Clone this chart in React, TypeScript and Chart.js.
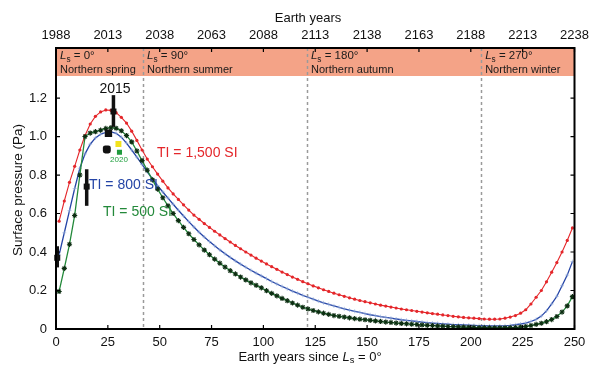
import React, { useEffect, useRef } from "react";
import { Chart, registerables } from "chart.js";
Chart.register(...registerables);

const FONT = "'Liberation Sans', Arial, Helvetica, sans-serif";

// Earth years since Ls = 0°
const years = [
  1.5, 4, 6.5, 9, 11.5, 14, 16.5, 19, 21.5, 24,
  26.5, 29, 31.5, 34, 36.5, 39, 41.5, 44, 46.5, 49,
  51.5, 54, 56.5, 59, 61.5, 64, 66.5, 69, 71.5, 74,
  76.5, 79, 81.5, 84, 86.5, 89, 91.5, 94, 96.5, 99,
  101.5, 104, 106.5, 109, 111.5, 114, 116.5, 119, 121.5, 124,
  126.5, 129, 131.5, 134, 136.5, 139, 141.5, 144, 146.5, 149,
  151.5, 154, 156.5, 159, 161.5, 164, 166.5, 169, 171.5, 174,
  176.5, 179, 181.5, 184, 186.5, 189, 191.5, 194, 196.5, 199,
  201.5, 204, 206.5, 209, 211.5, 214, 216.5, 219, 221.5, 224,
  226.5, 229, 231.5, 234, 236.5, 239, 241.5, 244, 246.5, 249,
];

// TI = 1,500 SI (red)
const pressureTI1500 = [
  0.56, 0.665, 0.762, 0.845, 0.93, 1.005, 1.065, 1.105, 1.128, 1.138,
  1.136, 1.124, 1.1, 1.07, 1.028, 0.98, 0.93, 0.883, 0.843, 0.805,
  0.768, 0.733, 0.702, 0.673, 0.645, 0.618, 0.592, 0.57, 0.548, 0.528,
  0.508, 0.489, 0.47, 0.452, 0.434, 0.417, 0.4, 0.384, 0.368, 0.353,
  0.338, 0.324, 0.31, 0.296, 0.283, 0.27, 0.258, 0.246, 0.235, 0.224,
  0.214, 0.204, 0.195, 0.186, 0.178, 0.17, 0.162, 0.155, 0.148, 0.142,
  0.136, 0.13, 0.124, 0.119, 0.114, 0.109, 0.104, 0.1, 0.096, 0.092,
  0.088, 0.084, 0.08, 0.077, 0.073, 0.07, 0.066, 0.063, 0.06, 0.058,
  0.056, 0.054, 0.052, 0.051, 0.051, 0.052, 0.056, 0.062, 0.07, 0.082,
  0.1, 0.13, 0.165, 0.2, 0.245, 0.295, 0.345, 0.4, 0.46, 0.525,
];

// TI = 800 SI (blue)
const pressureTI800 = [
  0.385, 0.5, 0.615, 0.73, 0.835, 0.91, 0.96, 0.993, 1.012, 1.022,
  1.024, 1.017, 0.997, 0.966, 0.93, 0.893, 0.855, 0.817, 0.78, 0.745,
  0.712, 0.68, 0.648, 0.617, 0.587, 0.558, 0.53, 0.503, 0.478, 0.454,
  0.432, 0.411, 0.391, 0.372, 0.354, 0.337, 0.321, 0.305, 0.29, 0.276,
  0.262, 0.247, 0.234, 0.221, 0.209, 0.197, 0.186, 0.175, 0.165, 0.155,
  0.145, 0.136, 0.128, 0.12, 0.112, 0.105, 0.098, 0.092, 0.086, 0.08,
  0.074, 0.069, 0.064, 0.06, 0.056, 0.052, 0.048, 0.045, 0.042, 0.039,
  0.036, 0.033, 0.031, 0.029, 0.027, 0.025, 0.023, 0.022, 0.021, 0.02,
  0.019, 0.018, 0.017, 0.016, 0.016, 0.016, 0.017, 0.019, 0.022, 0.026,
  0.031, 0.039, 0.05, 0.067, 0.094, 0.13, 0.17, 0.225, 0.28, 0.35,
];

// TI = 500 SI (green)
const pressureTI500 = [
  0.195, 0.315, 0.44, 0.59, 0.8, 1.0, 1.018, 1.025, 1.033, 1.042,
  1.046, 1.043, 1.03, 1.005, 0.972, 0.925, 0.875, 0.825, 0.775, 0.727,
  0.682, 0.64, 0.6, 0.563, 0.528, 0.495, 0.465, 0.437, 0.41, 0.386,
  0.363, 0.342, 0.322, 0.303, 0.286, 0.27, 0.255, 0.24, 0.227, 0.214,
  0.199, 0.185, 0.172, 0.159, 0.147, 0.135, 0.124, 0.113, 0.104, 0.096,
  0.089, 0.082, 0.076, 0.07, 0.066, 0.062, 0.058, 0.054, 0.051, 0.048,
  0.045, 0.042, 0.039, 0.036, 0.034, 0.031, 0.029, 0.027, 0.025, 0.023,
  0.021, 0.019, 0.018, 0.016, 0.015, 0.013, 0.012, 0.011, 0.01, 0.009,
  0.008, 0.007, 0.007, 0.006, 0.006, 0.006, 0.006, 0.007, 0.008, 0.01,
  0.013, 0.018, 0.024, 0.03, 0.038, 0.049, 0.065, 0.088, 0.12, 0.168,
];

const xTicks = [0, 25, 50, 75, 100, 125, 150, 175, 200, 225, 250];
const topYearTicks = [1988, 2013, 2038, 2063, 2088, 2113, 2138, 2163, 2188, 2213, 2238];
const yTicks = [0, 0.2, 0.4, 0.6, 0.8, 1.0, 1.2];

const seasonLs = [0, 90, 180, 270];
const seasonStartYears = [0, 42, 121, 205];
const seasonNames = ["Northern spring", "Northern summer", "Northern autumn", "Northern winter"];

// observations with error bars
const obsBarX = [0.6, 14.8, 27.7];
const obsBarLow = [0.32, 0.64, 1.05];
const obsBarHigh = [0.43, 0.83, 1.215];
const obsBarMid = [0.37, 0.74, 1.13];

// single observations
const obsPointX = [25.3, 24.5, 30.1, 30.6];
const obsPointY = [1.017, 0.933, 0.961, 0.918];
const obsPointColor = ["#111111", "#111111", "#f2e21c", "#1f9a3d"];
const obsPointRadius = [5.2, 4.6, 4.2, 3.6];
const obsPointStyle = ["rect", "rectRounded", "rect", "rect"];

const RED = "#e4262a";
const BLUE = "#2444a6";
const GREEN = "#23893a";

function drawLs(ctx: CanvasRenderingContext2D, x: number, y: number, rest: string, size: number) {
  ctx.textBaseline = "middle";
  ctx.textAlign = "left";
  ctx.font = `italic ${size}px ${FONT}`;
  ctx.fillText("L", x, y);
  let cx = x + ctx.measureText("L").width;
  ctx.font = `${size * 0.72}px ${FONT}`;
  ctx.fillText("s", cx, y + size * 0.3);
  cx += ctx.measureText("s").width;
  ctx.font = `${size}px ${FONT}`;
  ctx.fillText(rest, cx, y);
  return cx + ctx.measureText(rest).width - x;
}

function measureLs(ctx: CanvasRenderingContext2D, rest: string, size: number) {
  ctx.font = `italic ${size}px ${FONT}`;
  let w = ctx.measureText("L").width;
  ctx.font = `${size * 0.72}px ${FONT}`;
  w += ctx.measureText("s").width;
  ctx.font = `${size}px ${FONT}`;
  w += ctx.measureText(rest).width;
  return w;
}

const overlay = {
  id: "overlay",
  beforeDatasetsDraw(chart: any) {
    const { ctx, chartArea: a, scales } = chart;
    const x = scales.x;
    ctx.save();
    // season band
    ctx.fillStyle = "#f4a387";
    ctx.fillRect(a.left, a.top, a.right - a.left, 28);
    // dashed season lines
    ctx.strokeStyle = "#9a9a9a";
    ctx.lineWidth = 1.5;
    ctx.setLineDash([3, 3]);
    seasonStartYears.forEach((v, i) => {
      if (i === 0) return;
      const px = Math.round(x.getPixelForValue(v)) + 0.5;
      ctx.beginPath();
      ctx.moveTo(px, a.top);
      ctx.lineTo(px, a.bottom);
      ctx.stroke();
    });
    ctx.setLineDash([]);
    // band labels
    ctx.fillStyle = "#1a1a1a";
    seasonStartYears.forEach((v, i) => {
      const px = x.getPixelForValue(v) + 4;
      drawLs(ctx, px, a.top + 8, ` = ${seasonLs[i]}°`, 11.5);
      ctx.font = `11px ${FONT}`;
      ctx.textBaseline = "middle";
      ctx.fillText(seasonNames[i], px, a.top + 22);
    });
    ctx.restore();
  },
  afterDatasetsDraw(chart: any) {
    const { ctx, chartArea: a, scales } = chart;
    const x = scales.x;
    const y = scales.y;
    ctx.save();
    // error bars
    ctx.strokeStyle = "#111";
    ctx.fillStyle = "#111";
    obsBarX.forEach((v, i) => {
      const px = x.getPixelForValue(v);
      ctx.lineWidth = 3.5;
      ctx.beginPath();
      ctx.moveTo(px, y.getPixelForValue(obsBarLow[i]));
      ctx.lineTo(px, y.getPixelForValue(obsBarHigh[i]));
      ctx.stroke();
      const py = y.getPixelForValue(obsBarMid[i]);
      ctx.fillRect(px - 3, py - 3, 6, 6);
    });
    // labels
    ctx.textBaseline = "middle";
    ctx.textAlign = "left";
    ctx.font = `14px ${FONT}`;
    ctx.fillStyle = RED;
    ctx.fillText("TI = 1,500 SI", 157, 153);
    ctx.fillStyle = BLUE;
    ctx.fillText("TI = 800 SI", 89, 185);
    ctx.fillStyle = GREEN;
    ctx.fillText("TI = 500 SI", 103, 212);
    ctx.fillStyle = "#111";
    ctx.textAlign = "center";
    ctx.font = `14px ${FONT}`;
    ctx.fillText("2015", 115, 89);
    ctx.fillStyle = "#22a040";
    ctx.font = `8px ${FONT}`;
    ctx.fillText("2020", 119, 160);

    // frame
    ctx.strokeStyle = "#000";
    ctx.lineWidth = 2;
    ctx.strokeRect(a.left, a.top, a.right - a.left, a.bottom - a.top);
    // inward ticks
    ctx.lineWidth = 1.2;
    ctx.beginPath();
    xTicks.forEach((v) => {
      const px = x.getPixelForValue(v);
      ctx.moveTo(px, a.bottom);
      ctx.lineTo(px, a.bottom - 4);
      ctx.moveTo(px, a.top);
      ctx.lineTo(px, a.top + 4);
    });
    yTicks.forEach((v) => {
      const py = y.getPixelForValue(v);
      ctx.moveTo(a.left, py);
      ctx.lineTo(a.left + 4, py);
      ctx.moveTo(a.right, py);
      ctx.lineTo(a.right - 4, py);
    });
    ctx.stroke();

    // axis titles
    ctx.fillStyle = "#111";
    ctx.textBaseline = "middle";
    ctx.textAlign = "center";
    ctx.font = `13px ${FONT}`;
    ctx.fillText("Earth years", 308, 18);
    // bottom title
    ctx.font = `13px ${FONT}`;
    const pre = "Earth years since ";
    const wPre = ctx.measureText(pre).width;
    const wLs = measureLs(ctx, " = 0°", 13);
    const startX = 310 - (wPre + wLs) / 2;
    ctx.textAlign = "left";
    ctx.font = `13px ${FONT}`;
    ctx.fillText(pre, startX, 357);
    drawLs(ctx, startX + wPre, 357, " = 0°", 13);
    // y title
    ctx.save();
    ctx.translate(18, 190);
    ctx.rotate(-Math.PI / 2);
    ctx.textAlign = "center";
    ctx.font = `13.5px ${FONT}`;
    ctx.fillText("Surface pressure (Pa)", 0, 0);
    ctx.restore();
    ctx.restore();
  },
};

export default function App() {
  const canvasRef = useRef<HTMLCanvasElement | null>(null);
  useEffect(() => {
    document.body.style.margin = "0";
    const canvas = canvasRef.current;
    if (!canvas) return;
    const mk = (vals: number[]) => years.map((yr, i) => ({ x: yr, y: vals[i] }));
    const chart = new Chart(canvas, {
      type: "line",
      data: {
        datasets: [
          {
            label: "observations",
            data: obsPointX.map((v, i) => ({ x: v, y: obsPointY[i] })),
            showLine: false,
            pointStyle: obsPointStyle as any,
            pointRadius: obsPointRadius,
            pointBackgroundColor: obsPointColor,
            pointBorderColor: obsPointColor,
            pointBorderWidth: 0,
          },
          {
            label: "TI = 500 SI",
            data: mk(pressureTI500),
            borderColor: GREEN,
            borderWidth: 1.3,
            pointStyle: "star",
            pointRadius: 2.6,
            pointBorderColor: "#0d2e12",
            pointBackgroundColor: "#0d2e12",
            pointBorderWidth: 1.1,
            tension: 0,
          },
          {
            label: "TI = 800 SI",
            data: mk(pressureTI800),
            borderColor: BLUE,
            borderWidth: 1.3,
            pointStyle: "cross",
            pointRadius: 2,
            pointBorderColor: "rgba(140,165,215,0.6)",
            pointBorderWidth: 1,
            tension: 0,
          },
          {
            label: "TI = 1,500 SI",
            data: mk(pressureTI1500),
            borderColor: RED,
            borderWidth: 1.1,
            pointStyle: "circle",
            pointRadius: 1.6,
            pointBackgroundColor: RED,
            pointBorderWidth: 0,
            tension: 0,
          },
        ],
      },
      options: {
        responsive: false,
        animation: false,
        layout: { padding: { left: 0, right: 25.5, top: 0, bottom: 0 } },
        plugins: { legend: { display: false }, tooltip: { enabled: false } },
        scales: {
          x: {
            type: "linear",
            position: "bottom",
            min: 0,
            max: 250,
            afterBuildTicks: (s: any) => {
              s.ticks = xTicks.map((v) => ({ value: v }));
            },
            grid: { display: false, drawTicks: false },
            border: { display: false },
            ticks: {
              padding: 6,
              color: "#111",
              font: { family: FONT, size: 13 },
              maxRotation: 0,
              autoSkip: false,
            },
            afterFit: (s: any) => {
              s.height = 48;
              s.paddingLeft = 0;
              s.paddingRight = 0;
            },
          },
          x2: {
            type: "linear",
            position: "top",
            min: topYearTicks[0],
            max: topYearTicks[topYearTicks.length - 1],
            afterBuildTicks: (s: any) => {
              s.ticks = topYearTicks.map((v) => ({ value: v }));
            },
            grid: { display: false, drawTicks: false },
            border: { display: false },
            ticks: {
              padding: 5,
              color: "#111",
              font: { family: FONT, size: 13 },
              maxRotation: 0,
              autoSkip: false,
              callback: (v: any) => String(v),
            },
            afterFit: (s: any) => {
              s.height = 48;
              s.paddingLeft = 0;
              s.paddingRight = 0;
            },
          },
          y: {
            min: 0,
            max: 1.46,
            afterBuildTicks: (s: any) => {
              s.ticks = yTicks.map((v) => ({ value: v }));
            },
            grid: { display: false, drawTicks: false },
            border: { display: false },
            ticks: {
              padding: 9,
              color: "#111",
              font: { family: FONT, size: 13 },
              callback: (v: any) => (v === 0 ? "0" : Number(v).toFixed(1)),
            },
            afterFit: (s: any) => {
              s.width = 56;
              s.paddingTop = 0;
              s.paddingBottom = 0;
            },
          },
        },
      },
      plugins: [overlay],
    });
    return () => chart.destroy();
  }, []);
  return (
    <div style={{ position: "fixed", left: 0, top: 0, width: 600, height: 377, background: "#fff" }}>
      <canvas ref={canvasRef} width={600} height={377} style={{ width: 600, height: 377, display: "block" }} />
    </div>
  );
}
